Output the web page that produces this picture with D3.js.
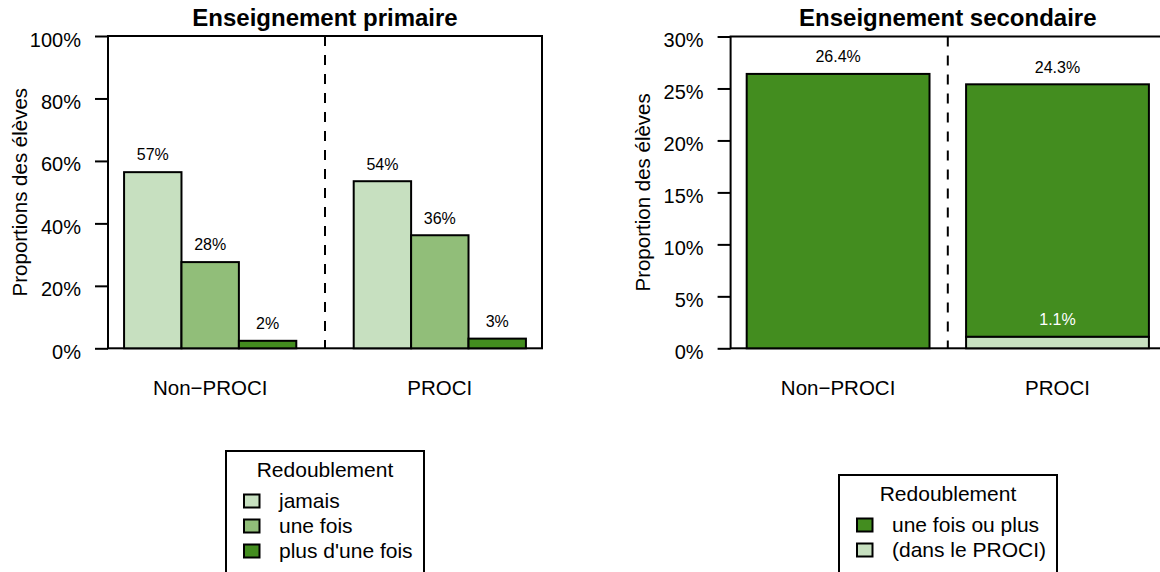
<!DOCTYPE html>
<html>
<head>
<meta charset="utf-8">
<script src="https://cdn.jsdelivr.net/npm/d3@7"></script>
<style>
  body { margin: 0; background: #fff; }
  text { font-family: "Liberation Sans", Arial, Helvetica, sans-serif; fill: #000; }
</style>
</head>
<body>
<div id="chart"></div>
<script>
var svgWidth = 1160;
var svgHeight = 572;

// categories
var groups = ["Non\u2212PROCI", "PROCI"];

// primaire : proportions by redoublement
var primaireKeys = ["jamais", "une fois", "plus d'une fois"];
var primaireJamais = [0.564, 0.535];
var primaireUneFois = [0.276, 0.362];
var primairePlus = [0.024, 0.031];
var primaireLabels = [["57%", "28%", "2%"], ["54%", "36%", "3%"]];

// secondaire : une fois ou plus, part dans le PROCI
var secondaireKeys = ["une fois ou plus", "(dans le PROCI)"];
var secondaireTotal = [0.264, 0.243];
var secondaireProci = [0, 0.011];
var secondaireLabels = ["26.4%", "24.3%"];
var secondaireProciLabels = ["", "1.1%"];

var primaireTicks = [0, 0.2, 0.4, 0.6, 0.8, 1];
var secondaireTicks = [0, 0.05, 0.1, 0.15, 0.2, 0.25, 0.3];

var light = "#C7E0C0";
var medium = "#91BE79";
var dark = "#438D1F";
var primaireColors = [light, medium, dark];

var svg = d3.select("#chart")
  .append("svg")
  .attr("width", svgWidth)
  .attr("height", svgHeight);

// function to draw a left axis + box + title for a panel
function drawFrame(x, y, ticks, title, ylabel) {
  var x0 = x.range()[0], x1 = x.range()[1];
  var y0 = y.range()[0], y1 = y.range()[1];

  var yAxis = svg.append("g")
    .attr("transform", `translate(${x0}, 0)`)
    .call(d3.axisLeft(y)
      .tickValues(ticks)
      .tickFormat(d3.format(".0%"))
      .tickSize(13)
      .tickSizeOuter(0)
      .tickPadding(14));

  yAxis.select(".domain").remove();
  yAxis.selectAll(".tick line").attr("stroke", "#000").attr("stroke-width", 2);
  yAxis.selectAll(".tick text")
    .attr("font-size", 20)
    .attr("font-family", "Liberation Sans, Arial, sans-serif")
    .attr("dy", "0.5em");

  svg.append("rect")
    .attr("x", x0)
    .attr("y", y1)
    .attr("width", x1 - x0)
    .attr("height", y0 - y1)
    .attr("fill", "none")
    .attr("stroke", "#000")
    .attr("stroke-width", 2);

  svg.append("text")
    .attr("x", (x0 + x1) / 2)
    .attr("y", 26)
    .attr("text-anchor", "middle")
    .attr("font-size", 24)
    .attr("font-weight", "bold")
    .text(title);

  svg.append("text")
    .attr("transform", `translate(${x0 - 81}, ${(y0 + y1) / 2}) rotate(-90)`)
    .attr("text-anchor", "middle")
    .attr("font-size", 20.5)
    .text(ylabel);
}

function drawDash(x, y, pos) {
  svg.append("line")
    .attr("x1", x(pos))
    .attr("x2", x(pos))
    .attr("y1", y.range()[1])
    .attr("y2", y.range()[0])
    .attr("stroke", "#000")
    .attr("stroke-width", 2)
    .attr("stroke-dasharray", "10,9");
}

function drawLegend(left, top, width, keys, colors) {
  var g = svg.append("g");
  g.append("rect")
    .attr("x", left)
    .attr("y", top)
    .attr("width", width)
    .attr("height", 160)
    .attr("fill", "#fff")
    .attr("stroke", "#000")
    .attr("stroke-width", 2);

  g.append("text")
    .attr("x", left + width / 2)
    .attr("y", top + 25.5)
    .attr("text-anchor", "middle")
    .attr("font-size", 21)
    .text("Redoublement");

  var items = g.selectAll(".item")
    .data(keys)
    .enter()
    .append("g")
    .attr("transform", (d, i) => `translate(${left + 18}, ${top + 50 + i * 25})`);

  items.append("rect")
    .attr("x", 0)
    .attr("y", -6.5)
    .attr("width", 15.5)
    .attr("height", 13)
    .attr("fill", (d, i) => colors[i])
    .attr("stroke", "#000")
    .attr("stroke-width", 2);

  items.append("text")
    .attr("x", 35)
    .attr("y", 7)
    .attr("font-size", 21)
    .text(d => d);
}

// ---------- Enseignement primaire ----------
var xP = d3.scaleLinear().domain([0.72, 8.28]).range([108, 542]);
var yP = d3.scaleLinear().domain([0, 1]).range([348.3, 36]);

drawFrame(xP, yP, primaireTicks, "Enseignement primaire", "Proportions des \u00e9l\u00e8ves");

var primaireData = [];
groups.forEach(function(gname, gi) {
  [primaireJamais, primaireUneFois, primairePlus].forEach(function(arr, k) {
    primaireData.push({ group: gi, key: k, value: arr[gi], label: primaireLabels[gi][k] });
  });
});

var barsP = svg.append("g").selectAll("g")
  .data(primaireData)
  .enter()
  .append("g");

barsP.append("rect")
  .attr("x", d => xP(1 + d.group * 4 + d.key))
  .attr("y", d => yP(d.value))
  .attr("width", d => xP(2) - xP(1))
  .attr("height", d => yP(0) - yP(d.value))
  .attr("fill", d => primaireColors[d.key])
  .attr("stroke", "#000")
  .attr("stroke-width", 2);

barsP.append("text")
  .attr("x", d => xP(1.5 + d.group * 4 + d.key))
  .attr("y", d => yP(d.value) - 11.7)
  .attr("text-anchor", "middle")
  .attr("font-size", 16)
  .text(d => d.label);

drawDash(xP, yP, 4.5);

svg.append("g").selectAll("text")
  .data(groups)
  .enter()
  .append("text")
  .attr("x", (d, i) => xP(2.5 + i * 4))
  .attr("y", 395)
  .attr("text-anchor", "middle")
  .attr("font-size", 20.5)
  .text(d => d);

drawLegend(226, 451, 198, primaireKeys, primaireColors);

// ---------- Enseignement secondaire ----------
var xS = d3.scaleLinear().domain([0.112, 2.488]).range([730.6, 1165]);
var yS = d3.scaleLinear().domain([0, 0.3]).range([348.3, 36.5]);

drawFrame(xS, yS, secondaireTicks, "Enseignement secondaire", "Proportion des \u00e9l\u00e8ves");

var secondaireData = groups.map(function(gname, gi) {
  return {
    group: gi,
    proci: secondaireProci[gi],
    total: secondaireProci[gi] + secondaireTotal[gi],
    label: secondaireLabels[gi],
    proLabel: secondaireProciLabels[gi]
  };
});

var barsS = svg.append("g").selectAll("g")
  .data(secondaireData)
  .enter()
  .append("g");

// dark part (une fois ou plus), stacked above the PROCI part
barsS.append("rect")
  .attr("x", d => xS(0.2 + d.group * 1.2))
  .attr("y", d => yS(d.total))
  .attr("width", xS(1) - xS(0))
  .attr("height", d => yS(d.proci) - yS(d.total))
  .attr("fill", dark)
  .attr("stroke", "#000")
  .attr("stroke-width", 2);

barsS.filter(d => d.proci > 0).append("rect")
  .attr("x", d => xS(0.2 + d.group * 1.2))
  .attr("y", d => yS(d.proci))
  .attr("width", xS(1) - xS(0))
  .attr("height", d => yS(0) - yS(d.proci))
  .attr("fill", light)
  .attr("stroke", "#000")
  .attr("stroke-width", 2);

barsS.append("text")
  .attr("x", d => xS(0.7 + d.group * 1.2))
  .attr("y", d => yS(d.total) - 11.7)
  .attr("text-anchor", "middle")
  .attr("font-size", 16)
  .text(d => d.label);

barsS.filter(d => d.proci > 0).append("text")
  .attr("x", d => xS(0.7 + d.group * 1.2))
  .attr("y", d => yS(d.proci) - 11.7)
  .attr("text-anchor", "middle")
  .attr("font-size", 16)
  .style("fill", "#fff")
  .text(d => d.proLabel);

drawDash(xS, yS, 1.3);

svg.append("g").selectAll("text")
  .data(groups)
  .enter()
  .append("text")
  .attr("x", (d, i) => xS(0.7 + i * 1.2))
  .attr("y", 395)
  .attr("text-anchor", "middle")
  .attr("font-size", 20.5)
  .text(d => d);

drawLegend(839, 475, 218, secondaireKeys, [dark, light]);
</script>
</body>
</html>
